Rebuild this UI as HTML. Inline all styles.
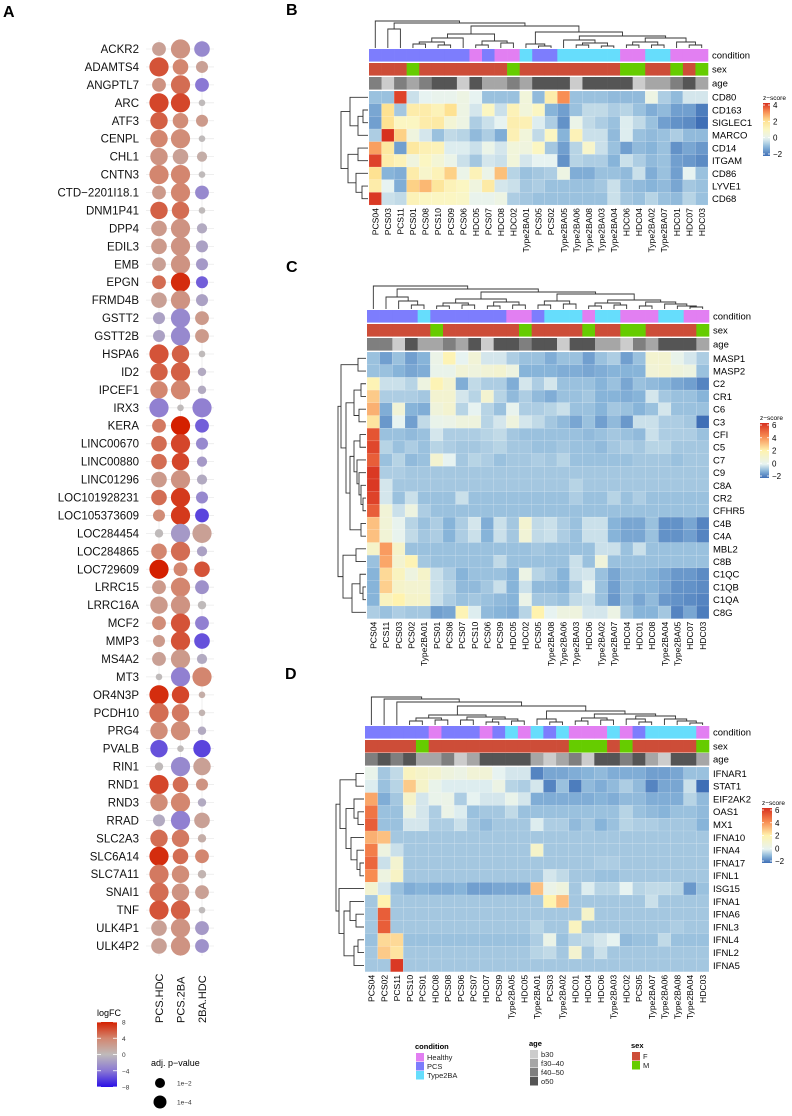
<!DOCTYPE html>
<html><head><meta charset="utf-8"><style>
html,body{margin:0;padding:0;background:#fff}
svg{display:block;font-family:"Liberation Sans",Arial,sans-serif}
</style></head><body>
<svg id="fig" width="792" height="1116" viewBox="0 0 792 1116" xmlns="http://www.w3.org/2000/svg">
<text x="3" y="17" font-size="16" font-weight="bold">A</text>
<text x="286" y="15" font-size="16" font-weight="bold">B</text>
<text x="286" y="272" font-size="16" font-weight="bold">C</text>
<text x="285" y="679" font-size="16" font-weight="bold">D</text>
<g id="pa"></g>
<g id="pb"></g>
<g id="pc"></g>
<g id="pd"></g>
<g id="leg"></g>
</svg>
<script>
const NS="http://www.w3.org/2000/svg";
function mk(p,t,a){const e=document.createElementNS(NS,t);for(const k in a)e.setAttribute(k,a[k]);p.appendChild(e);return e;}

// ---------- Panel A data ----------
const genes=["ACKR2","ADAMTS4","ANGPTL7","ARC","ATF3","CENPL","CHL1","CNTN3","CTD\u22122201I18.1","DNM1P41","DPP4","EDIL3","EMB","EPGN","FRMD4B","GSTT2","GSTT2B","HSPA6","ID2","IPCEF1","IRX3","KERA","LINC00670","LINC00880","LINC01296","LOC101928231","LOC105373609","LOC284454","LOC284865","LOC729609","LRRC15","LRRC16A","MCF2","MMP3","MS4A2","MT3","OR4N3P","PCDH10","PRG4","PVALB","RIN1","RND1","RND3","RRAD","SLC2A3","SLC6A14","SLC7A11","SNAI1","TNF","ULK4P1","ULK4P2"];
const comparisons=["PCS.HDC","PCS.2BA","2BA.HDC"];
const fcPcsHdc=[2,6,3,6.5,5.5,4,3,4,2.5,5.5,2.5,2.5,2,5,2,-1.5,-1.5,6,5.5,4,-3.5,4.5,5,5,2.5,5,3.5,0,4,8,2.5,2.5,3.5,2.5,2,0,7.5,5,3.5,-5.5,0,6.5,3.5,-1,5,7.5,4.5,5,6,2,2];
const fcPcs2ba=[3,4,5,6.5,3.5,3.5,2,4,4,5,3,3,3,7.5,3,-3,-3,5.5,5.5,4,0,8,6.5,6.5,3,7,7,-2,5,4,4,3,6,6,2.5,-3.5,6.5,4.5,3.5,0,-3,5,4,-3.5,4.5,5,3.5,3,5.5,3,3];
const fc2baHdc=[-3,2,-4,0,2.5,0,1,0,-3,0,-1,-1.5,-2,-5,-1.5,2.5,2.5,0,-1,-1,-3.5,-5,-3,-2,-1,-3,-6,2,-1.5,6,-2.5,0,-3.5,-5.5,-1,4,1,0.5,-1,-6,2,3,-1,2,1,4,0.5,2,0,-2,-2.5];
const sigPcsHdc=[3,4.5,3,4.5,4,4,4,4.5,3,4,3.5,3.5,3,3,3.5,2.5,2.5,4.5,4,4,4.5,3,3.5,3.5,3.5,3.5,2.5,1.5,3.5,4.5,3,4,3,2.5,3,1,4.5,4.5,4,4,1.5,4.5,4,2.5,4,4.5,4.5,4.5,4.5,3.5,3.5];
const sigPcs2ba=[4.5,3.5,4.5,4.5,3.5,4.5,3.5,4.5,4.5,4,4.5,4.5,4.5,4.5,4.5,4.5,4.5,4,4.5,4.5,1,4.5,4.5,4,4.5,4.5,4.5,4.5,4.5,3,4.5,4.5,4.5,4.5,4.5,4.5,4,4,4.5,1,4.5,3.5,4.5,4.5,4,3.5,4,4,4.5,4.5,4.5];
const sig2baHdc=[3.5,2.5,3,1,2.5,1,2,1,3,1,2,2.5,2.5,2.5,2.5,3,3,1,1.5,1.5,4.5,3,2.5,2,2,2.5,3,4.5,2,3.5,3,1.5,3,3.5,2,4.5,1,1,1.5,4,4,2.5,1.5,3.5,1.5,3,1.5,3,1,3,3];

function lerp(a,b,t){return a+(b-a)*t;}
function hex(c){return [parseInt(c.slice(1,3),16),parseInt(c.slice(3,5),16),parseInt(c.slice(5,7),16)];}
function ramp(stops,v){ // stops [[val,'#hex'],...]
  if(v<=stops[0][0])return stops[0][1];
  for(let i=1;i<stops.length;i++){if(v<=stops[i][0]){const t=(v-stops[i-1][0])/(stops[i][0]-stops[i-1][0]);const a=hex(stops[i-1][1]),b=hex(stops[i][1]);return "rgb("+a.map((x,k)=>Math.round(lerp(x,b[k],t))).join(",")+")";}}
  return stops[stops.length-1][1];
}
const fcStops=[[-8,"#2a0fe6"],[-4,"#8a78d4"],[0,"#bfbaba"],[4,"#d3866f"],[8,"#d42000"]];
const A=document.getElementById("pa");
const colX=[159,180.5,202];
const rowY0=49, rowStep=17.94;
function yA(i){return rowY0+i*rowStep;}
function rA(s){return 1.5+1.8*s;}
// grid
for(let i=0;i<genes.length;i++){const l=mk(A,"line",{x1:146,x2:214,y1:yA(i),y2:yA(i),stroke:"#ebebeb","stroke-width":0.8});

}
for(let j=0;j<3;j++){const l=mk(A,"line",{x1:colX[j],x2:colX[j],y1:40,y2:956,stroke:"#ebebeb","stroke-width":0.8});

}
const fcs=[fcPcsHdc,fcPcs2ba,fc2baHdc], sigs=[sigPcsHdc,sigPcs2ba,sig2baHdc];
genes.forEach((g,i)=>{
  const t=mk(A,"text",{x:139,y:yA(i)+4,"font-size":11.5,"text-anchor":"end",fill:"#111"});t.textContent=g;
  
  
  for(let j=0;j<3;j++){
    const c=mk(A,"circle",{cx:colX[j],cy:yA(i),r:rA(sigs[j][i]),fill:ramp(fcStops,fcs[j][i])});
    
    
  }
});
comparisons.forEach((c,j)=>{
  const t=mk(A,"text",{x:colX[j]+4,y:1023,"font-size":11,transform:`rotate(-90 ${colX[j]+4} 1023)`,fill:"#111"});t.textContent=c;
  
  
});
// logFC legend
const fcTicks=[8,4,0,-4,-8];
{
  const d=mk(A,"defs",{});const lg=mk(d,"linearGradient",{id:"fcg",x1:0,y1:0,x2:0,y2:1});
  [[0,"#d42000"],[0.25,"#d3866f"],[0.5,"#bfbaba"],[0.75,"#8a78d4"],[1,"#2a0fe6"]].forEach(s=>mk(lg,"stop",{offset:s[0],"stop-color":s[1]}));
  let t=mk(A,"text",{x:97,y:1016,"font-size":9});t.textContent="logFC";
  
  
  const r=mk(A,"rect",{x:97,y:1022,width:20,height:65,fill:"url(#fcg)"});
  
  
  fcTicks.forEach(v=>{const y=1022+(8-v)/16*65;
    mk(A,"line",{x1:97,x2:101,y1:y,y2:y,stroke:"#fff","stroke-width":0.8});mk(A,"line",{x1:113,x2:117,y1:y,y2:y,stroke:"#fff","stroke-width":0.8});
    const tt=mk(A,"text",{x:122,y:y+2.5,"font-size":6.5,fill:"#333"});tt.textContent=v<0?"\u2212"+(-v):v;
    
    });
  t=mk(A,"text",{x:151,y:1066,"font-size":9});t.textContent="adj. p\u2212value";
  
  
  [["1e\u22122",1083,5],["1e\u22124",1102,6.5]].forEach(p=>{
    const c=mk(A,"circle",{cx:160,cy:p[1],r:p[2],fill:"#000"});
    
    
    const tt=mk(A,"text",{x:177,y:p[1]+2.5,"font-size":6.5,fill:"#333"});tt.textContent=p[0];
    
    
  });
}

// ---------- Sample metadata ----------
const sampleNames=["PCS04","PCS03","PCS11","PCS01","PCS08","PCS10","PCS09","PCS06","HDC05","PCS07","HDC08","HDC02","Type2BA01","PCS05","PCS02","Type2BA05","Type2BA06","Type2BA08","Type2BA03","Type2BA04","HDC06","HDC04","Type2BA02","Type2BA07","HDC01","HDC07","HDC03"];
const sampleSex=["F","F","F","M","F","F","F","F","F","F","F","M","F","F","F","F","F","F","F","F","M","M","F","F","M","F","M"];
const sampleAge=["f40-50","b30","f40-50","f30-40","f40-50","o50","o50","b30","o50","f30-40","f30-40","f40-50","f30-40","o50","o50","o50","b30","o50","o50","o50","o50","b30","f30-40","f30-40","f40-50","o50","f30-40"];
const condCol={Healthy:"#e27ff2",PCS:"#7d7dfd",Type2BA:"#66ddfc"};
const sexCol={F:"#cd4d38",M:"#66cc00"};
const ageCol={"b30":"#cccccc","f30-40":"#a6a6a6","f40-50":"#7f7f7f","o50":"#555555"};
function cond(n){return n.startsWith("HDC")?"Healthy":n.startsWith("PCS")?"PCS":"Type2BA";}

// ---------- Panel B data ----------
const colsB=sampleNames.slice();
const rowsB=["CD80","CD163","SIGLEC1","MARCO","CD14","ITGAM","CD86","LYVE1","CD68"];
const zCD80=[-0.8,-0.8,3.8,-0.3,0,0.1,0.1,0.3,0,-0.8,-0.8,-0.8,0.5,-0.9,1.5,3,-0.8,-0.8,-0.8,-0.9,-0.9,-0.9,0.3,-0.6,-0.9,-0.2,-0.2];
const zCD163=[-1.2,2,-0.7,1.5,1.5,1.2,2,0.3,-0.2,1,-0.3,1.2,0.5,1,-1,-1.3,-0.8,-0.4,-0.4,-0.6,-0.5,-0.8,-1.1,-0.9,-1.3,-1.3,-1.8];
const zSIGLEC1=[-1.3,2,1,1,1.5,1.6,0.6,0.3,-0.6,-0.3,0,1.4,1.3,-0.1,-0.6,-1.5,0.2,-0.4,-0.6,-0.8,-0.1,-0.4,-0.8,-1.3,-1.5,-1.6,-2];
const zMARCO=[-0.6,4.2,2.2,0.4,-0.2,-0.8,-0.4,-0.5,-0.9,-0.6,-1.1,1.3,0.5,-0.4,1,-1,1.2,-0.3,-0.3,-0.9,-0.1,-0.8,-0.9,-0.8,-0.6,-0.9,-0.9];
const zCD14=[2.8,1.7,-1.3,1.7,1.3,1.2,-0.1,-0.1,-0.3,0.2,-0.2,0.5,0.4,1,-0.7,-1.3,-0.5,0.8,-0.3,-0.8,-1.3,-0.9,-1,-0.8,-1.5,-1.2,-1.4];
const zITGAM=[3.8,1.5,1.2,0.4,1,0.6,0.2,-0.3,-0.7,-0.2,-0.3,0.5,-0.2,0,0,-1.5,-0.5,-0.6,-0.6,-1,-0.3,-0.6,-0.9,-0.8,-1.3,-1.4,-1.6];
const zCD86=[2,-1,-1.1,1.5,0.8,1.2,2.2,0.2,1.2,0.2,2.4,-0.5,-0.8,-0.7,-0.6,0.3,-1.1,-1.1,-0.8,-0.8,-0.9,-0.3,-1.1,-0.8,-1.3,0,-0.8];
const zLYVE1=[1.5,0,-1.1,2.2,2.5,1.8,1.2,1,0.4,1.6,-0.2,-0.3,-0.7,-0.6,-0.8,-0.8,-0.8,-0.8,-0.7,-0.3,-0.8,-0.9,-1,-0.9,-1.2,-0.7,-0.8];
const zCD68=[3.9,-0.3,-0.4,1.2,1,1,1,0.9,0.1,0.1,0.3,-0.6,-0.7,-0.8,-0.8,-0.8,-0.8,-0.8,-0.8,-0.3,-0.7,-0.8,-0.5,-0.8,-0.9,-0.5,-0.8];
const valsB=[zCD80,zCD163,zSIGLEC1,zMARCO,zCD14,zITGAM,zCD86,zLYVE1,zCD68];
const ticksB=[4,2,0,-2];

// ---------- Panel C data ----------
const colsC=["PCS04","PCS11","PCS03","PCS02","Type2BA01","PCS01","PCS08","PCS07","PCS10","PCS06","PCS09","HDC05","HDC02","PCS05","Type2BA08","Type2BA06","Type2BA03","HDC06","Type2BA02","Type2BA07","HDC04","HDC01","HDC08","Type2BA04","Type2BA05","HDC07","HDC03"];
const rowsC=["MASP1","MASP2","C2","CR1","C6","C3","CFI","C5","C7","C9","C8A","CR2","CFHR5","C4B","C4A","MBL2","C8B","C1QC","C1QB","C1QA","C8G"];
const zMASP1=[-0.8,-1.3,-0.8,-1.3,-1,0.3,1.8,0,0.8,-0.2,-0.2,-0.6,-0.8,-0.8,-1.1,-0.8,-0.8,-1.3,-0.8,-0.6,-1.3,-0.8,1,1,0.2,-0.2,-0.6];
const zMASP2=[-0.8,-0.8,-1,-1.2,-1.1,0.2,0.2,0.8,0.6,0.8,1,0.5,-1,-1,-1,-1.1,-1.1,-1.2,-1.1,-1,-1,-1,0.8,1,0.7,0.5,-0.8];
const zC2=[1.8,-0.3,-0.3,-0.5,0.5,1.8,1,-1.1,-0.4,-0.6,-0.6,-1.1,-0.2,-0.6,-0.2,-0.8,-0.8,-0.8,-1,-0.8,-1.2,-0.8,-0.9,-1,-1.2,-1.3,-1.7];
const zCR1=[2.8,-0.6,-0.6,-0.6,-0.7,1,1,-0.2,-0.5,1,-0.5,-0.9,-0.6,-0.9,-1.1,-0.8,-0.8,-0.7,-1,-1,-1.1,-1,-0.2,-0.7,-0.8,-0.8,-1];
const zC6=[3.3,-1.1,0.8,-1,-1.1,0.7,1,-0.5,0,-0.5,-0.8,0.1,-0.6,-0.6,-0.5,-0.3,-0.8,-0.8,-1,-0.7,-0.8,-1,-0.8,-0.2,-0.8,-0.8,-0.8];
const zC3=[2.3,-1.4,0,-1.3,-0.4,0.2,0.3,0.6,0.6,-0.5,-0.2,0.6,-0.2,-0.4,-0.7,-0.9,-1.2,-0.8,-1.3,-0.9,-1.4,-0.3,-0.3,-0.6,-0.6,-0.7,-2];
const zCFI=[5.2,-0.8,-0.8,-0.9,-0.8,-0.2,-0.6,-0.6,-0.6,-0.5,-0.4,-0.7,-0.8,-0.8,-0.8,-0.8,-0.8,-0.9,-0.8,-0.7,-0.8,-0.9,-0.3,-0.6,-0.6,-0.6,-0.8];
const zC5=[5.5,-0.5,-0.8,-0.6,-0.8,-0.5,-0.6,-0.7,-0.7,-0.6,-0.5,-0.7,-0.7,-0.8,-0.8,-0.7,-0.8,-0.8,-0.9,-0.7,-0.6,-0.7,-0.5,-0.5,-0.7,-0.7,-0.7];
const zC7=[5,-0.8,-0.5,-0.9,-0.8,1,0,-0.7,-0.5,-0.6,-0.8,-0.7,-0.7,-0.6,-0.7,-0.5,-0.8,-0.8,-0.8,-0.8,-0.8,-0.7,-0.7,-0.7,-0.8,-0.7,-0.7];
const zC9=[5.8,-0.6,-0.6,-0.7,-0.7,-0.7,-0.7,-0.7,-0.7,-0.7,-0.7,-0.7,-0.7,-0.7,-0.7,-0.7,-0.7,-0.7,-0.7,-0.7,-0.7,-0.7,-0.7,-0.7,-0.7,-0.7,-0.7];
const zC8A=[5.8,-0.2,-0.7,-0.7,-0.7,-0.7,-0.7,-0.7,-0.7,-0.7,-0.7,-0.7,-0.7,-0.7,-0.7,-0.7,-0.5,-0.7,-0.7,-0.7,-0.7,-0.7,-0.7,-0.7,-0.7,-0.7,-0.7];
const zCR2=[5.6,-0.2,-0.8,-0.3,-0.8,-0.8,-0.8,-0.3,-0.8,-0.8,-0.8,-0.8,-0.8,-0.8,-0.8,-0.8,-0.6,-0.8,-0.8,-0.5,-0.8,-0.6,-0.8,-0.8,-0.8,-0.8,-0.8];
const zCFHR5=[5,0.8,-0.3,0.5,-0.6,-0.8,-0.8,-0.8,-0.8,-0.8,-0.8,-0.8,-0.8,-0.8,-0.8,-0.8,-0.8,-0.8,-0.8,-0.8,-0.8,-0.8,-0.8,-0.8,-0.8,-0.8,-0.8];
const zC4B=[3,0.8,0.1,-0.5,-0.8,-0.6,-1,-0.6,-0.2,-1.1,-0.3,-0.7,1,-0.4,-0.3,-0.6,-0.8,-0.3,-0.3,-1,-1.2,-1.2,-0.8,-1.5,-1.5,-1.2,-1.7];
const zC4A=[3,0.8,0.1,-0.4,-0.7,-0.6,-1,-0.6,-0.3,-1,-0.3,-0.7,0.8,-0.4,-0.3,-0.6,-0.8,-0.3,-0.3,-1,-1.2,-1.2,-0.8,-1.5,-1.5,-1.3,-1.7];
const zMBL2=[1.2,3.7,1.2,-0.8,-0.8,-0.8,-0.8,-0.8,-0.8,-0.8,-0.8,-0.8,-0.8,-0.7,-0.8,-0.8,-0.8,-0.8,-0.3,-0.3,-0.8,-0.3,-0.8,-0.8,-0.8,-0.8,-0.8];
const zC8B=[-0.8,3.5,1,1.8,-0.7,-0.8,-0.8,-0.8,-0.8,-0.8,-0.4,-0.8,-0.8,-0.8,-0.8,-0.8,-0.3,-0.8,0.7,-0.8,-0.8,-0.8,-0.8,-0.8,-0.8,-0.8,-0.8];
const zC1QC=[-1,2.5,1.5,0.5,1.2,-0.3,-0.6,-1,-0.8,-0.8,-0.8,-1,0.4,-0.5,-0.7,-1,-0.3,-0.2,-0.8,-1.2,-0.9,-0.9,-1,-1.2,-1.4,-1.4,-1.6];
const zC1QB=[-1,2.7,1.2,1,1,-0.3,-0.5,-0.9,-0.9,-0.7,-0.3,-1,-0.3,-0.9,-0.9,-1,-0.6,0.1,-0.8,-1.3,-0.9,-1,-1,-1.2,-1.5,-1.5,-1.6];
const zC1QA=[-1,1.5,2,1.2,1.2,-0.3,-0.6,-0.8,-0.7,-0.8,-0.9,-1,0.3,-0.7,-0.7,-0.8,-0.4,-0.3,-0.8,-1.4,-0.9,-1.2,-0.9,-1.4,-1.5,-1.6,-1.7];
const zC8G=[-0.6,-0.8,-0.6,-0.7,-0.7,-1.3,-1.2,1.8,-0.1,-0.9,-1,-1.1,-0.5,2,0,0.5,0.6,-0.2,-0.2,0.4,-0.7,-1,-1,-0.7,-1.7,-1.2,-1.8];
const valsC=[zMASP1,zMASP2,zC2,zCR1,zC6,zC3,zCFI,zC5,zC7,zC9,zC8A,zCR2,zCFHR5,zC4B,zC4A,zMBL2,zC8B,zC1QC,zC1QB,zC1QA,zC8G];
const ticksC=[6,4,2,0,-2];

// ---------- Panel D data ----------
const colsD=["PCS04","PCS02","PCS11","PCS10","PCS01","HDC08","PCS08","PCS06","PCS07","HDC07","PCS09","Type2BA05","HDC05","Type2BA01","PCS03","Type2BA02","HDC01","HDC04","HDC06","Type2BA03","HDC02","PCS05","Type2BA07","Type2BA06","Type2BA08","Type2BA04","HDC03"];
const rowsD=["IFNAR1","STAT1","EIF2AK2","OAS1","MX1","IFNA10","IFNA4","IFNA17","IFNL1","ISG15","IFNA1","IFNA6","IFNL3","IFNL4","IFNL2","IFNA5"];
const zIFNAR1=[0.2,-0.7,-0.4,1.5,1.2,1,0.6,0.4,0.8,0.8,0,-0.2,-0.2,-1.7,-1.2,-1.2,-1.1,-1,-0.9,-1.1,-1.1,-1.1,-1.3,-1.3,-1.2,-0.8,-0.8];
const zSTAT1=[-0.1,-0.8,-0.5,2.8,1.2,0.2,-0.1,-0.1,-0.1,-0.1,0.4,-0.5,-0.6,-0.2,-1.7,-0.8,-1.8,-0.9,-1.1,-0.9,-0.6,-0.9,-1.7,-1.2,-1.2,-0.3,-2];
const zEIF2AK2=[3.5,-1.1,-0.7,1.2,-0.2,0.2,0.3,-0.6,0,-0.2,-0.2,0.2,-0.2,-1.1,-1.1,-1.1,-1.1,-1.1,-1,-1.1,-0.9,-0.9,-1.1,-1.1,-1.1,-0.5,-0.9];
const zOAS1=[4.5,-0.8,-0.8,0.5,-0.2,-0.6,0.3,-0.1,-0.8,-0.7,-0.7,-0.4,-0.8,-0.8,-0.8,-0.8,-0.8,-0.8,-0.8,-0.8,-0.5,-0.8,-0.9,-1,-0.8,-0.8,-0.9];
const zMX1=[5,-0.8,-0.8,-0.2,-0.2,-0.6,-0.6,-0.3,-0.7,-0.9,-0.7,-0.7,-0.7,-0.1,-0.6,-0.6,-0.9,-0.7,-1,-0.8,-0.5,-0.6,-0.6,-0.7,-0.7,-0.7,-1];
const zIFNA10=[3.3,3,-0.7,-0.7,-0.7,-0.7,-0.7,-0.7,-0.7,-0.7,-0.7,-0.7,-0.7,-0.7,-0.7,-0.7,-0.7,-0.7,-0.7,-0.7,-0.7,-0.7,-0.7,-0.7,-0.7,-0.7,-0.7];
const zIFNA4=[4.3,0.5,-0.3,-0.7,-0.7,-0.7,-0.7,-0.7,-0.7,-0.7,-0.7,-0.7,-0.7,1.2,-0.7,-0.7,-0.7,-0.7,-0.7,-0.7,-0.7,-0.7,-0.7,-0.7,-0.7,-0.7,-0.7];
const zIFNA17=[4.8,-0.3,1,-0.7,-0.7,-0.7,-0.7,-0.7,-0.7,-0.7,-0.7,-0.7,-0.7,-0.7,-0.7,-0.7,-0.7,-0.7,-0.6,-0.6,-0.7,-0.7,-0.7,-0.7,-0.7,-0.7,-0.7];
const zIFNL1=[4,0.5,1.3,-0.7,-0.7,-0.7,-0.7,-0.7,-0.7,-0.7,-0.7,-0.7,-0.7,-0.7,-0.2,-0.4,-0.7,-0.7,-0.8,-0.8,-0.7,-0.7,-0.7,-0.7,-0.7,-0.7,-0.7];
const zISG15=[1,-0.2,-0.8,-1.1,-1,-1.1,-1.1,-1,-1.3,-1.3,-1.2,-1.2,-1.2,3,0.3,0.6,-0.7,-0.1,-0.5,-0.5,0,-0.5,-0.4,-0.4,-0.5,-1.4,-0.8];
const zIFNA1=[-0.7,2,-0.7,-0.7,-0.7,-0.7,-0.7,-0.7,-0.7,-0.7,-0.7,-0.7,-0.7,-0.7,2,3,-0.7,-0.7,-0.7,-0.7,-0.7,-0.7,-0.3,-0.7,-0.7,-0.7,-0.7];
const zIFNA6=[-0.7,5,-0.7,-0.7,-0.7,-0.7,-0.7,-0.7,-0.7,-0.7,-0.7,-0.7,-0.7,-0.7,-0.7,-0.7,-0.7,1.2,-0.7,-0.7,-0.7,-0.7,-0.7,-0.7,-0.7,-0.7,-0.7];
const zIFNL3=[-0.7,5,-0.7,-0.7,-0.7,-0.7,-0.7,-0.7,-0.7,-0.7,-0.7,-0.7,-0.7,-0.5,-0.7,-0.7,1.5,-0.7,-0.7,-0.7,-0.7,-0.7,-0.7,-0.7,-0.6,-0.7,-0.7];
const zIFNL4=[-0.8,2.5,2.5,-0.8,-0.8,-0.8,-0.8,-0.8,-0.8,-0.8,-0.8,-0.8,-0.8,-0.6,0.3,-0.8,-0.5,-0.4,-0.2,0,-0.9,-0.8,-0.8,-0.4,-0.8,-0.8,-0.8];
const zIFNL2=[-0.7,2.8,2.3,-0.7,-0.7,-0.7,-0.7,-0.7,-0.7,-0.7,-0.7,-0.7,-0.7,-0.5,-0.4,-0.7,1,-0.7,-0.3,-0.7,-0.7,-0.7,-0.7,-0.7,-0.7,-0.7,-0.7];
const zIFNA5=[-0.7,-0.7,5.8,-0.7,-0.7,-0.7,-0.7,-0.7,-0.7,-0.7,-0.7,-0.7,-0.7,-0.7,-0.7,-0.7,-0.7,-0.7,-0.7,-0.7,-0.7,-0.7,-0.7,-0.7,-0.7,-0.7,-0.7];
const valsD=[zIFNAR1,zSTAT1,zEIF2AK2,zOAS1,zMX1,zIFNA10,zIFNA4,zIFNA17,zIFNL1,zISG15,zIFNA1,zIFNA6,zIFNL3,zIFNL4,zIFNL2,zIFNA5];
const ticksD=[6,4,2,0,-2];

// dendrogram topologies (merge heights in px)
const treeColB=[27,0,[25,[19,1,2],[22,[14,[10,[6,[4,3,4],[3,5,6]],7],[7,[3,8,9],[5,10,11]]],[16,[4,12,[2,13,14]],[12,[8,15,[5,[3,16,17],[2,18,19]]],[10,[6,[3,20,21],[3,22,23]],[6,24,[3,25,26]]]]]]]];
const treeRowB=[27,[18,0,[10,[5,1,2],3]],[20,[10,4,5],[12,6,[6,7,8]]]];
const treeColC=[23,0,[20,[12,1,[8,2,[4,3,4]]],[17,[10,[6,[3,5,6],[4,7,8]],[7,[3,9,10],[4,11,12]]],[15,[8,[4,13,14],[5,15,16]],[9,[6,[3,17,18],[4,19,20]],[7,[3,21,22],[5,23,[3,24,[2,25,26]]]]]]]]];
const treeRowC=[28,[25,[8,0,1],[20,[12,[5,2,3],[7,4,5]],[16,[12,[6,6,7],[9,8,[7,9,[5,10,[3,11,12]]]]],[5,13,14]]]],[23,[10,15,16],[14,[6,17,[3,18,19]],20]]];
const treeColD=[28,0,[26,1,[23,2,[19,[10,[7,[4,3,4],[5,5,6]],[8,[5,7,8],[6,[3,9,10],[4,11,12]]]],[14,[6,13,[3,14,15]],[11,[7,[4,16,17],[5,18,19]],[9,[6,20,[3,21,22]],[6,23,[4,24,[2,25,26]]]]]]]]]];
const treeRowD=[28,[24,[8,0,1],[18,[10,2,[6,3,4]],[13,5,[7,6,[4,7,8]]]]],[25,9,[20,[14,10,[8,11,12]],[10,[6,13,14],15]]]];

const zStops=[[-2,"#3f6fb6"],[-1,"#87b4d9"],[0,"#e7f3f1"],[1,"#fbf6c2"],[2,"#fee292"],[3,"#f88e54"],[4,"#d7301f"]];
const zStops6=[[-2,"#3f6fb6"],[-1,"#87b4d9"],[0,"#e7f3f1"],[2,"#fff3ae"],[4,"#f88c52"],[6,"#d7301f"]];

function meta(n){const i=sampleNames.indexOf(n);return {c:cond(n),s:sampleSex[i],a:sampleAge[i]};}

function heatmap(g,cfg){
  const {cols,rows,vals,x0,x1,annY,annH,hTop,rh,stops,zmin,zmax,ticks,leg,treeC,treeR}=cfg;
  const cw=(x1-x0)/cols.length;
  const xc=i=>x0+(i+0.5)*cw;
  const yr=i=>hTop+(i+0.5)*rh;
  // annotations
  const annNames=["condition","sex","age"];
  cols.forEach((n,i)=>{
    const m=meta(n);const fills=[condCol[m.c],sexCol[m.s],ageCol[m.a]];
    fills.forEach((f,k)=>{const r=mk(g,"rect",{x:x0+i*cw,y:annY[k],width:cw+0.3,height:annH,fill:f});
      
      });
  });
  annNames.forEach((a,k)=>{const t=mk(g,"text",{x:x1+4,y:annY[k]+annH/2+3.4,"font-size":9.5});t.textContent=a;
    
    });
  // cells
  rows.forEach((rn,j)=>{
    cols.forEach((cn,i)=>{
      const r=mk(g,"rect",{x:x0+i*cw,y:hTop+j*rh,width:cw,height:rh,fill:ramp(stops,vals[j][i]),stroke:"#ffffff","stroke-opacity":0.25,"stroke-width":0.4});
      
      
    });
    const t=mk(g,"text",{x:x1+4,y:yr(j)+3.4,"font-size":9.5});t.textContent=rn;
    
    
  });
  const hBot=hTop+rows.length*rh;
  cols.forEach((cn,i)=>{
    const x=xc(i)+3.2,y=hBot+3;
    const t=mk(g,"text",{x:x,y:y,"font-size":8.6,"text-anchor":"end",transform:`rotate(-90 ${x} ${y})`});t.textContent=cn;
    
    
  });
  // dendrograms
  let d="";
  function walkC(n){if(typeof n==="number")return [xc(n),0];
    const a=walkC(n[1]),b=walkC(n[2]),base=annY[0]-1;
    d+=`M${a[0]} ${base-a[1]}V${base-n[0]}H${b[0]}V${base-b[1]}`;return [(a[0]+b[0])/2,n[0]];}
  walkC(treeC);
  function walkR(n){if(typeof n==="number")return [yr(n),0];
    const a=walkR(n[1]),b=walkR(n[2]),base=x0-1;
    d+=`M${base-a[1]} ${a[0]}H${base-n[0]}V${b[0]}H${base-b[1]}`;return [(a[0]+b[0])/2,n[0]];}
  walkR(treeR);
  const p=mk(g,"path",{d:d,fill:"none",stroke:"#333","stroke-width":0.9});
  
  
  // legend
  const gid="zg"+Math.round(leg.y);
  const defs=mk(g,"defs",{});const lg=mk(defs,"linearGradient",{id:gid,x1:0,y1:0,x2:0,y2:1});
  for(let k=0;k<=20;k++){const v=zmax-(zmax-zmin)*k/20;mk(lg,"stop",{offset:k/20,"stop-color":ramp(stops,v)});}
  let t=mk(g,"text",{x:leg.x,y:leg.y-3,"font-size":6.5});t.textContent="z\u2212score";
  
  
  const rr=mk(g,"rect",{x:leg.x,y:leg.y,width:leg.w,height:leg.h,fill:`url(#${gid})`});
  
  
  ticks.forEach(v=>{const y=leg.y+2+(zmax-v)/(zmax-zmin)*(leg.h-4);
    mk(g,"line",{x1:leg.x,x2:leg.x+2,y1:y,y2:y,stroke:"#fff","stroke-width":0.8});mk(g,"line",{x1:leg.x+leg.w-2,x2:leg.x+leg.w,y1:y,y2:y,stroke:"#fff","stroke-width":0.8});
    const tt=mk(g,"text",{x:leg.x+leg.w+3,y:y+3,"font-size":8});tt.textContent=v<0?"\u2212"+(-v):v;
    
    });
}
heatmap(document.getElementById("pb"),{cols:colsB,rows:rowsB,vals:valsB,x0:369,x1:708,annY:[49,63,77],annH:12.6,hTop:91,rh:12.67,stops:zStops,zmin:-2,zmax:4,ticks:ticksB,leg:{x:763,y:103,w:7,h:53},treeC:treeColB,treeR:treeRowB});
heatmap(document.getElementById("pc"),{cols:colsC,rows:rowsC,vals:valsC,x0:367,x1:709,annY:[310,324,338],annH:12.6,hTop:352,rh:12.7,stops:zStops6,zmin:-2,zmax:6,ticks:ticksC,leg:{x:760,y:423,w:9,h:55},treeC:treeColC,treeR:treeRowC});
heatmap(document.getElementById("pd"),{cols:colsD,rows:rowsD,vals:valsD,x0:365,x1:709,annY:[726,740,753],annH:12.6,hTop:767,rh:12.8,stops:zStops6,zmin:-2,zmax:6,ticks:ticksD,leg:{x:762,y:808,w:10,h:55},treeC:treeColD,treeR:treeRowD});

// annotation legend
const L=document.getElementById("leg");
function legBlock(x,y,title,items,cols){
  const t=mk(L,"text",{x:x,y:y,"font-size":7.5,"font-weight":"bold"});t.textContent=title;
  
  
  items.forEach((it,k)=>{const yy=y+4+k*9;
    const r=mk(L,"rect",{x:x+1,y:yy,width:8,height:8.5,fill:cols[it]});
    
    
    const tt=mk(L,"text",{x:x+12,y:yy+7,"font-size":7.5,fill:"#222"});tt.textContent=it.replace("-","\u2013");
    
    });
}
legBlock(415,1049,"condition",["Healthy","PCS","Type2BA"],condCol);
legBlock(529,1046,"age",["b30","f30-40","f40-50","o50"],ageCol);
legBlock(631,1048,"sex",["F","M"],sexCol);
</script>
</body></html>
